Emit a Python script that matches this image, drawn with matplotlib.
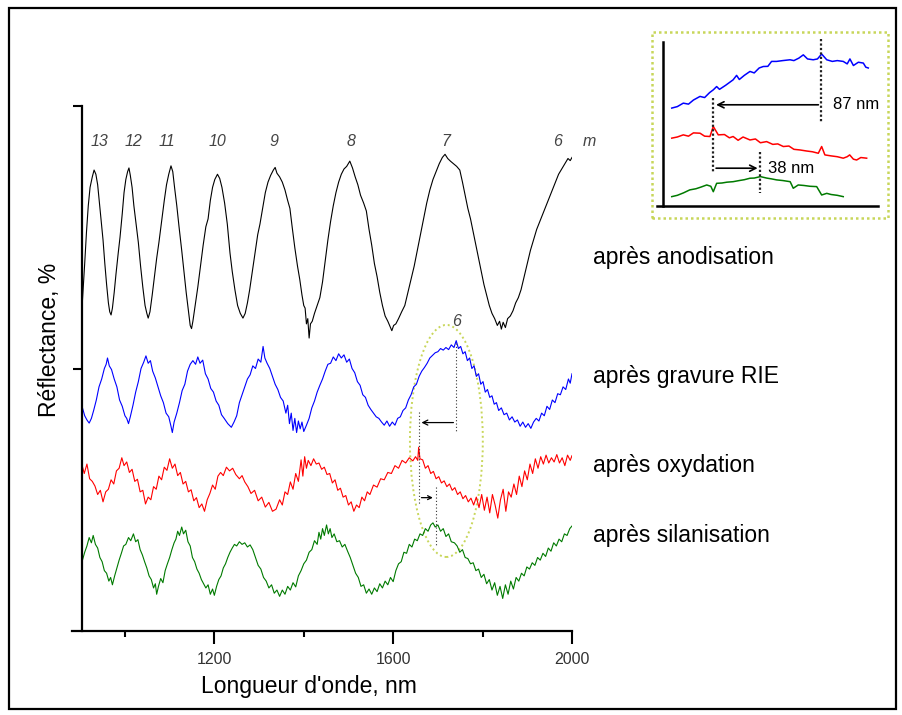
import matplotlib
matplotlib.use("Agg")
import matplotlib.pyplot as plt
from matplotlib.patches import Rectangle, Ellipse

plt.rcParams['font.family'] = ['Liberation Sans', 'DejaVu Sans']

# ---------------- data (wavelength nm, reflectance in arbitrary offset units) ----------------
black_pts = [(905, 63.0), (910, 70.0), (914, 76.0), (918, 81.0), (922, 84.5), (927, 86.5), (931, 87.8),
    (935, 87.0), (939, 85.0), (943, 81.5), (947, 78.0), (951, 74.5), (955, 70.0), (959, 66.0),
    (963, 62.5), (966, 60.8), (969, 60.2), (972, 61.5), (976, 64.5), (980, 68.0), (985, 72.0),
    (989, 75.0), (994, 79.5), (998, 83.5), (1002, 86.0), (1006, 87.5), (1009, 88.2), (1012, 86.8),
    (1016, 84.5), (1020, 81.0), (1025, 77.5), (1030, 74.0), (1035, 69.5), (1040, 65.5), (1045, 62.0),
    (1049, 60.5), (1052, 59.6), (1056, 60.8), (1061, 64.0), (1066, 67.5), (1071, 71.0), (1076, 74.0),
    (1082, 78.0), (1088, 82.0), (1093, 85.0), (1098, 87.0), (1103, 88.6), (1107, 87.5), (1111, 84.5),
    (1116, 81.0), (1121, 77.0), (1127, 72.5), (1132, 68.5), (1137, 64.5), (1142, 61.0), (1146, 58.2),
    (1149, 57.6), (1152, 59.0), (1157, 62.0), (1163, 65.5), (1169, 69.5), (1175, 73.5), (1181, 77.0),
    (1186, 78.5), (1191, 82.0), (1196, 84.5), (1201, 86.0), (1207, 87.0), (1212, 86.2), (1217, 84.5),
    (1223, 81.5), (1229, 77.5), (1235, 72.0), (1240, 68.5), (1246, 65.0), (1252, 62.0), (1258, 60.5),
    (1264, 59.6), (1269, 60.5), (1274, 62.5), (1279, 65.0), (1285, 68.5), (1291, 72.0), (1297, 75.5),
    (1302, 77.5), (1308, 80.5), (1314, 83.5), (1320, 85.5), (1326, 86.8), (1332, 87.8), (1336, 88.3),
    (1340, 87.2), (1346, 86.5), (1352, 85.5), (1358, 84.0), (1364, 82.0), (1369, 80.5), (1374, 77.0),
    (1380, 73.0), (1386, 69.5), (1391, 67.0), (1396, 64.0), (1400, 62.0), (1403, 61.5), (1406, 58.5),
    (1409, 59.5), (1412, 55.8), (1415, 58.5), (1419, 59.0), (1424, 60.5), (1430, 62.0), (1436, 63.5),
    (1442, 66.5), (1448, 70.5), (1454, 74.5), (1460, 78.0), (1466, 81.0), (1472, 83.5), (1478, 85.5),
    (1484, 87.0), (1490, 88.0), (1496, 88.5), (1503, 89.5), (1509, 88.2), (1515, 86.5), (1521, 85.0),
    (1527, 83.0), (1534, 81.5), (1540, 80.0), (1546, 76.5), (1552, 73.5), (1558, 70.0), (1564, 67.5),
    (1570, 64.5), (1576, 62.0), (1582, 60.0), (1588, 59.0), (1593, 58.0), (1597, 57.2), (1601, 58.2),
    (1606, 58.5), (1612, 59.5), (1619, 60.8), (1626, 62.0), (1633, 64.5), (1640, 67.0), (1647, 69.5),
    (1654, 72.5), (1661, 75.5), (1668, 78.5), (1675, 81.5), (1682, 84.0), (1689, 86.0), (1696, 87.5),
    (1703, 89.0), (1710, 90.2), (1716, 90.8), (1722, 90.0), (1728, 89.5), (1735, 89.0), (1742, 88.5),
    (1749, 87.8), (1755, 85.5), (1761, 83.0), (1767, 80.5), (1773, 78.5), (1779, 76.0), (1785, 73.5),
    (1791, 71.0), (1797, 68.5), (1803, 66.0), (1809, 64.0), (1815, 62.0), (1821, 60.5), (1827, 59.5),
    (1833, 58.2), (1838, 59.0), (1842, 57.5), (1846, 58.8), (1851, 57.8), (1856, 59.5), (1862, 60.0),
    (1868, 61.0), (1874, 62.5), (1880, 63.5), (1886, 65.0), (1893, 67.5), (1900, 70.0), (1907, 72.5),
    (1914, 74.5), (1921, 76.5), (1928, 78.0), (1935, 79.5), (1942, 81.0), (1949, 82.5), (1956, 84.0),
    (1963, 85.5), (1970, 87.0), (1977, 88.0), (1984, 89.0), (1991, 90.0), (1996, 89.6), (2000, 90.2)]

blue_pts = [(905, 42.5), (910, 41.0), (915, 40.2), (920, 39.6), (925, 40.5), (930, 42.0), (936, 44.0),
    (942, 46.5), (948, 48.0), (954, 50.0), (958, 50.8), (961, 52.0), (965, 50.5), (970, 49.8),
    (976, 48.0), (982, 46.5), (988, 44.0), (994, 42.8), (1000, 41.0), (1004, 40.5), (1008, 39.5),
    (1012, 40.8), (1018, 43.0), (1024, 45.5), (1030, 47.5), (1036, 50.0), (1042, 51.2), (1047, 52.4),
    (1052, 51.0), (1057, 51.5), (1062, 49.5), (1068, 48.2), (1074, 46.5), (1080, 44.8), (1086, 43.5),
    (1092, 41.5), (1098, 40.8), (1103, 39.0), (1106, 37.8), (1110, 39.8), (1116, 41.5), (1122, 43.5),
    (1128, 45.8), (1134, 47.0), (1140, 49.5), (1146, 50.8), (1152, 51.5), (1158, 50.8), (1163, 52.2),
    (1168, 51.0), (1174, 51.6), (1180, 49.0), (1186, 48.0), (1192, 46.2), (1198, 45.5), (1204, 43.8),
    (1210, 43.0), (1216, 41.2), (1222, 40.5), (1230, 39.5), (1238, 38.8), (1244, 39.8), (1250, 41.0),
    (1256, 43.5), (1262, 45.0), (1268, 46.5), (1274, 48.0), (1280, 48.8), (1286, 50.5), (1292, 50.0),
    (1298, 51.8), (1304, 51.2), (1309, 54.2), (1313, 52.0), (1318, 51.0), (1324, 50.0), (1330, 48.5),
    (1336, 47.0), (1342, 46.0), (1348, 44.5), (1354, 43.8), (1360, 41.5), (1364, 43.0), (1368, 39.5),
    (1372, 41.5), (1376, 38.2), (1380, 40.5), (1384, 37.8), (1388, 40.0), (1392, 38.5), (1396, 39.8),
    (1400, 38.0), (1406, 39.2), (1412, 40.5), (1418, 42.5), (1424, 43.8), (1430, 45.5), (1436, 46.8),
    (1442, 48.0), (1448, 49.5), (1454, 50.8), (1460, 51.0), (1466, 52.2), (1472, 51.5), (1478, 52.8),
    (1484, 52.0), (1490, 52.6), (1496, 51.2), (1502, 51.8), (1508, 50.0), (1514, 49.2), (1520, 47.5),
    (1526, 46.8), (1532, 45.0), (1538, 44.5), (1544, 43.0), (1550, 42.2), (1556, 41.5), (1562, 40.8),
    (1568, 40.5), (1574, 39.8), (1580, 39.2), (1586, 40.0), (1592, 39.0), (1598, 39.8), (1604, 39.2),
    (1610, 40.5), (1616, 40.8), (1622, 42.0), (1628, 42.5), (1634, 44.0), (1640, 45.0), (1646, 46.5),
    (1652, 47.0), (1658, 48.5), (1664, 49.5), (1670, 50.2), (1676, 51.0), (1682, 52.0), (1688, 52.5),
    (1694, 53.0), (1700, 53.2), (1706, 53.8), (1712, 53.5), (1718, 54.0), (1724, 53.6), (1730, 54.5),
    (1736, 54.0), (1741, 55.3), (1746, 53.8), (1751, 54.2), (1756, 52.8), (1761, 53.2), (1766, 51.5),
    (1771, 52.0), (1776, 50.0), (1781, 50.5), (1786, 48.5), (1791, 49.0), (1796, 47.0), (1801, 47.5),
    (1806, 45.5), (1811, 46.0), (1816, 44.5), (1821, 44.8), (1826, 43.2), (1831, 43.5), (1836, 42.0),
    (1842, 42.5), (1848, 41.2), (1854, 41.5), (1860, 40.2), (1866, 40.8), (1872, 39.8), (1878, 40.2),
    (1884, 39.0), (1890, 39.8), (1896, 38.8), (1902, 39.5), (1908, 38.6), (1914, 39.8), (1920, 40.5),
    (1926, 40.0), (1932, 41.5), (1938, 41.0), (1944, 42.8), (1950, 42.2), (1956, 44.0), (1962, 43.5),
    (1968, 45.2), (1974, 45.0), (1980, 46.5), (1986, 46.0), (1992, 48.0), (1996, 47.2), (2000, 49.0)]

red_pts = [(905, 31.3), (909, 30.0), (915, 31.8), (921, 29.0), (927, 28.5), (933, 27.6), (939, 26.0),
    (945, 26.8), (951, 24.6), (957, 26.5), (963, 27.0), (969, 28.8), (975, 28.0), (981, 30.5),
    (987, 31.0), (993, 33.0), (998, 31.5), (1004, 32.2), (1010, 30.2), (1016, 30.8), (1022, 28.5),
    (1028, 28.9), (1034, 26.5), (1040, 26.8), (1046, 24.2), (1052, 25.5), (1058, 25.0), (1064, 27.5),
    (1070, 27.0), (1076, 29.5), (1082, 28.8), (1088, 31.2), (1094, 30.6), (1100, 32.8), (1106, 31.0),
    (1112, 31.8), (1118, 29.6), (1124, 30.2), (1130, 28.0), (1136, 28.5), (1142, 26.5), (1148, 26.9),
    (1154, 24.8), (1160, 25.4), (1166, 23.5), (1172, 24.2), (1178, 22.8), (1184, 25.0), (1190, 26.2),
    (1196, 27.8), (1202, 27.0), (1208, 29.5), (1214, 30.2), (1220, 29.6), (1227, 31.2), (1234, 30.5),
    (1241, 31.0), (1248, 29.8), (1256, 29.0), (1262, 29.6), (1268, 28.4), (1275, 27.5), (1282, 26.2),
    (1290, 26.8), (1298, 24.8), (1306, 25.5), (1314, 23.6), (1322, 24.5), (1330, 22.8), (1338, 23.2),
    (1346, 25.0), (1352, 24.0), (1358, 26.5), (1364, 26.0), (1370, 28.4), (1376, 27.0), (1382, 30.0),
    (1388, 28.5), (1394, 32.6), (1398, 29.5), (1402, 33.2), (1406, 31.0), (1410, 32.5), (1416, 31.5),
    (1422, 32.8), (1428, 31.8), (1434, 32.0), (1440, 30.8), (1446, 31.2), (1452, 29.8), (1458, 30.0),
    (1464, 28.2), (1470, 28.8), (1476, 26.8), (1482, 27.2), (1488, 25.5), (1494, 25.8), (1500, 24.0),
    (1506, 24.6), (1512, 22.8), (1518, 24.0), (1524, 23.5), (1530, 25.5), (1536, 24.8), (1542, 26.5),
    (1548, 26.0), (1556, 27.8), (1564, 27.4), (1572, 29.0), (1580, 28.8), (1588, 30.2), (1596, 30.0),
    (1604, 31.5), (1612, 31.0), (1620, 32.5), (1628, 32.0), (1636, 33.0), (1644, 32.4), (1650, 33.2),
    (1655, 32.5), (1657, 35.0), (1660, 32.8), (1666, 32.6), (1672, 31.0), (1678, 31.5), (1684, 30.0),
    (1690, 30.4), (1696, 29.0), (1702, 29.4), (1708, 28.2), (1714, 28.6), (1720, 27.5), (1726, 28.0),
    (1732, 26.8), (1738, 27.3), (1744, 26.0), (1750, 26.5), (1756, 25.2), (1762, 25.8), (1768, 24.6),
    (1774, 25.3), (1780, 24.0), (1786, 25.5), (1792, 23.5), (1798, 26.0), (1804, 23.0), (1810, 25.5),
    (1816, 22.5), (1822, 26.0), (1828, 24.0), (1834, 21.5), (1840, 25.0), (1846, 27.0), (1852, 22.8),
    (1858, 26.5), (1864, 25.5), (1870, 28.0), (1876, 26.0), (1882, 29.5), (1888, 27.5), (1894, 30.5),
    (1900, 28.8), (1906, 31.8), (1912, 30.0), (1918, 32.8), (1924, 31.0), (1930, 33.2), (1936, 31.8),
    (1942, 33.5), (1948, 32.0), (1954, 33.0), (1960, 32.2), (1966, 33.6), (1972, 32.0), (1978, 33.0),
    (1984, 31.5), (1990, 33.5), (1996, 32.5), (2000, 33.4)]

green_pts = [(905, 13.5), (910, 15.0), (915, 16.2), (920, 17.8), (925, 16.8), (929, 18.2), (934, 16.5),
    (939, 15.8), (944, 14.0), (949, 13.2), (954, 11.5), (959, 11.0), (964, 9.5), (968, 10.2),
    (972, 8.8), (977, 10.5), (982, 12.0), (987, 13.5), (992, 14.8), (997, 16.2), (1002, 16.5),
    (1008, 17.8), (1013, 17.2), (1019, 18.5), (1024, 17.0), (1029, 17.4), (1034, 15.5), (1039, 14.5),
    (1044, 13.2), (1049, 12.0), (1054, 10.5), (1059, 9.8), (1064, 8.2), (1068, 9.0), (1071, 7.0),
    (1075, 8.5), (1080, 10.0), (1085, 9.2), (1090, 11.5), (1095, 12.8), (1100, 14.0), (1105, 15.5),
    (1110, 16.8), (1114, 17.5), (1118, 19.0), (1122, 18.2), (1127, 19.8), (1131, 18.5), (1136, 19.2),
    (1141, 17.0), (1146, 16.2), (1151, 14.0), (1156, 13.2), (1161, 11.8), (1166, 11.0), (1171, 9.8),
    (1176, 9.0), (1181, 8.2), (1186, 8.8), (1191, 7.0), (1196, 8.0), (1200, 6.8), (1205, 8.5),
    (1210, 9.8), (1215, 10.5), (1220, 12.0), (1225, 12.8), (1230, 14.0), (1235, 15.0), (1240, 15.8),
    (1245, 16.5), (1250, 16.2), (1256, 17.0), (1262, 16.5), (1268, 16.8), (1274, 16.0), (1280, 16.4),
    (1286, 15.5), (1292, 14.0), (1298, 12.5), (1304, 11.8), (1310, 10.2), (1316, 9.5), (1322, 8.2),
    (1328, 8.8), (1334, 7.2), (1340, 7.8), (1346, 6.6), (1352, 7.8), (1358, 7.0), (1364, 8.5),
    (1370, 7.8), (1376, 9.2), (1382, 8.4), (1388, 10.5), (1394, 11.5), (1400, 12.8), (1406, 13.5),
    (1412, 15.0), (1418, 15.5), (1424, 17.2), (1430, 16.5), (1434, 18.8), (1438, 17.5), (1442, 19.5),
    (1446, 18.2), (1451, 20.2), (1455, 18.5), (1459, 19.5), (1463, 17.8), (1468, 18.5), (1474, 17.0),
    (1480, 17.2), (1486, 16.0), (1492, 16.5), (1498, 15.2), (1504, 14.0), (1510, 12.5), (1516, 11.0),
    (1522, 10.2), (1528, 8.5), (1534, 8.8), (1540, 7.2), (1546, 8.0), (1552, 7.0), (1558, 8.2),
    (1564, 7.5), (1570, 9.0), (1576, 8.2), (1582, 9.5), (1588, 8.8), (1594, 10.2), (1600, 9.4),
    (1606, 11.5), (1612, 12.8), (1618, 13.2), (1624, 15.0), (1630, 14.8), (1636, 16.5), (1642, 16.0),
    (1648, 17.5), (1654, 17.2), (1660, 18.5), (1666, 18.2), (1672, 19.5), (1678, 19.0), (1684, 20.2),
    (1689, 20.6), (1694, 19.8), (1700, 20.2), (1706, 19.0), (1712, 19.5), (1718, 18.0), (1724, 18.5),
    (1730, 17.0), (1737, 16.8), (1743, 16.2), (1749, 15.0), (1755, 15.5), (1761, 14.0), (1767, 13.8),
    (1773, 12.8), (1779, 13.0), (1785, 11.5), (1791, 11.8), (1797, 10.2), (1803, 10.8), (1809, 9.0),
    (1815, 9.8), (1821, 7.8), (1827, 9.2), (1833, 6.8), (1839, 8.5), (1845, 6.2), (1851, 8.8),
    (1857, 7.0), (1863, 9.5), (1869, 8.0), (1875, 10.2), (1881, 9.5), (1887, 11.0), (1893, 10.5),
    (1899, 12.2), (1905, 11.8), (1911, 13.0), (1917, 12.5), (1923, 14.0), (1929, 13.5), (1935, 14.8),
    (1941, 14.2), (1947, 15.8), (1953, 15.2), (1959, 16.8), (1965, 16.2), (1971, 17.5), (1977, 17.0),
    (1983, 18.5), (1989, 18.2), (1995, 19.5), (2000, 20.0)]

series_labels = ["après anodisation", "après gravure RIE", "après oxydation", "après silanisation"]
series_colors = ["#000000", "#0000ff", "#ff0000", "#007a00"]

order_labels = ["13", "12", "11", "10", "9", "8", "7", "6", "m"]
order_x = [942, 1018, 1094, 1206, 1334, 1505, 1717, 1968, 2040]
order_y = 93.3

x_major = [1200, 1600, 2000]
x_minor = [1000, 1400, 1800]

# peak positions for the shift annotation (main plot)
peak_blue, peak_red, peak_green = 1741, 1657, 1695

# inset (zoom around order 6 peak)
inset_blue = [(1623.5, 59.6), (1628, 60.5), (1632.8, 62.6), (1637, 62.0), (1641, 64.5), (1646.3, 66.7),
    (1650, 66.0), (1654, 69.0), (1657, 70.7), (1659.7, 72.7), (1662, 71.0), (1667, 73.5), (1673, 76.8),
    (1675.8, 79.5), (1678, 77.0), (1682, 79.5), (1686.6, 81.9), (1690, 81.0), (1694, 84.0), (1697.3, 84.9),
    (1701, 85.0), (1704, 88.0), (1708, 88.0), (1713, 88.5), (1718.9, 89.0), (1722, 88.5), (1726, 90.0),
    (1729.6, 92.0), (1733, 89.5), (1737.6, 89.0), (1741, 89.5), (1744.4, 92.5), (1748.5, 89.0),
    (1753, 88.0), (1757, 88.5), (1761.8, 88.0), (1765, 86.5), (1767.2, 89.5), (1770, 85.5),
    (1774, 87.5), (1778, 87.0), (1780, 84.5), (1782, 84.0)]
inset_red = [(1623.5, 41.3), (1628, 42.0), (1632.8, 43.3), (1637, 42.5), (1641, 44.5), (1646.3, 44.3),
    (1650, 42.5), (1654.3, 42.3), (1657, 48.4), (1661, 43.3), (1666, 43.5), (1670, 41.5), (1673, 42.3),
    (1677, 40.0), (1681, 42.0), (1686.6, 40.2), (1691, 40.8), (1695, 38.5), (1700, 39.2), (1705, 37.5),
    (1709, 37.8), (1713.5, 36.2), (1718, 36.5), (1722, 34.5), (1727, 34.1), (1732, 33.5), (1737, 33.0),
    (1741.7, 32.1), (1744.4, 36.2), (1747, 31.1), (1752, 30.5), (1757, 30.0), (1761.8, 29.1),
    (1765, 30.0), (1767, 31.1), (1770, 28.5), (1772.6, 28.0), (1776, 29.5), (1780.7, 29.1)]
inset_green = [(1623.5, 5.7), (1628, 6.5), (1633, 8.0), (1638, 9.8), (1643, 10.5), (1647, 11.5),
    (1651.7, 12.8), (1655, 12.0), (1657, 8.7), (1659.7, 13.8), (1664, 14.0), (1668, 14.5), (1673, 14.8),
    (1678, 15.5), (1682, 16.0), (1686.6, 16.9), (1690, 17.0), (1695, 17.9), (1700, 17.0), (1704, 16.5),
    (1708, 15.9), (1713, 15.5), (1719, 14.8), (1721.5, 10.8), (1725.5, 12.8), (1730, 12.5),
    (1735, 12.0), (1740.4, 11.8), (1744.4, 6.7), (1748.5, 7.7), (1752, 7.0), (1757, 6.5), (1761.8, 5.7)]
inset_peaks = [1744, 1657, 1695]
inset_shifts = ["87 nm", "38 nm"]

# ---------------- figure ----------------
W, H = 903, 715
fig = plt.figure(figsize=(W / 100, H / 100), dpi=100)

def fx(px):
    return px / W

def fy(py):
    return 1 - py / H

ax = fig.add_axes([fx(72), fy(631), (572 - 72) / W, (631 - 106) / H])
ax.set_xlim(881.6, 2000)
ax.set_ylim(0, 100)
for s in ("top", "right"):
    ax.spines[s].set_visible(False)
ax.spines["left"].set_position(("data", 904))
for s in ("left", "bottom"):
    ax.spines[s].set_linewidth(1.6)
ax.patch.set_alpha(0)

ax.set_xticks(x_major)
ax.set_xticks(x_minor, minor=True)
ax.set_xticklabels([str(v) for v in x_major], fontsize=11.5, color="#333333")
ax.tick_params(axis="x", which="major", direction="out", length=9, width=1.5, pad=6)
ax.tick_params(axis="x", which="minor", direction="out", length=4.5, width=1.5)
ax.set_yticks([50, 100])
ax.set_yticklabels([])
ax.tick_params(axis="y", which="major", direction="out", length=6.5, width=1.5)

for pts, c in zip([black_pts, blue_pts, red_pts, green_pts], series_colors):
    xs = [p[0] for p in pts]
    ys = [p[1] for p in pts]
    ax.plot(xs, ys, color=c, lw=0.8)

for lab, xv in zip(order_labels, order_x):
    ax.text(xv, order_y, lab, fontsize=11.5, style="italic", color="#444444",
            ha="center", va="center", clip_on=False)
ax.text(peak_blue, 58.9, "6", fontsize=11.5, style="italic", color="#444444", ha="center", va="center")

# shift annotation in main plot
dot_kw = dict(color="#333333", lw=0.8, ls=(0, (1, 2)))
ax.plot([peak_blue, peak_blue], [54.9, 37.7], **dot_kw)
ax.plot([peak_red, peak_red], [41.8, 24.0], **dot_kw)
ax.plot([peak_green, peak_green], [27.4, 16.4], **dot_kw)
ax.annotate("", xy=(peak_red, 39.7), xytext=(peak_blue, 39.7),
            arrowprops=dict(arrowstyle="->", color="black", lw=0.9, mutation_scale=9))
ax.annotate("", xy=(peak_green, 25.4), xytext=(peak_red, 25.4),
            arrowprops=dict(arrowstyle="->", color="black", lw=0.9, mutation_scale=7))
ax.add_patch(Ellipse((1719, 36.2), 163, 44.2, fill=False, ec="#c8d65a", lw=1.4, ls=(0, (1, 1.5))))

# series labels
label_base = [264.3, 383.3, 471.7, 541.7]
for lab, py in zip(series_labels, label_base):
    fig.text(fx(593), fy(py), lab, fontsize=16.5, color="black", ha="left", va="baseline")

# axis labels
fig.text(fx(309), fy(686), "Longueur d'onde, nm", fontsize=16.5, ha="center", va="center")
fig.text(fx(50), fy(340), "Réflectance, %", fontsize=16.5, ha="center", va="center", rotation=90)

# ---------------- inset ----------------
fig.add_artist(Rectangle((fx(652), fy(218)), (888 - 652) / W, (218 - 32) / H, transform=fig.transFigure,
                         fill=False, ec="#c8d65a", lw=1.8, ls=(0, (1, 1.2))))
ia = fig.add_axes([fx(657), fy(206), (877.7 - 657) / W, (206 - 41.7) / H])
ia.set_xlim(1611.6, 1789.6)
ia.set_ylim(0, 100)
ia.patch.set_alpha(0)
for s in ("top", "right"):
    ia.spines[s].set_visible(False)
ia.spines["left"].set_position(("data", 1616.2))
for s in ("left", "bottom"):
    ia.spines[s].set_linewidth(1.8)
ia.set_xticks([])
ia.set_yticks([])
for pts, c in zip([inset_blue, inset_red, inset_green], series_colors[1:]):
    ia.plot([p[0] for p in pts], [p[1] for p in pts], color=c, lw=1.1)
idot = dict(color="#222222", lw=1.6, ls=(0, (1, 1)))
ia.plot([inset_peaks[0]] * 2, [101.7, 51.4], clip_on=False, **idot)
ia.plot([inset_peaks[1]] * 2, [65.7, 20.9], **idot)
ia.plot([inset_peaks[2]] * 2, [33.1, 7.7], **idot)
ia.annotate("", xy=(inset_peaks[1], 61.6), xytext=(inset_peaks[0], 61.6),
            arrowprops=dict(arrowstyle="->", color="black", lw=1.2, mutation_scale=11))
ia.annotate("", xy=(inset_peaks[2], 23.0), xytext=(inset_peaks[1], 23.0),
            arrowprops=dict(arrowstyle="->", color="black", lw=1.2, mutation_scale=11))
ia.text(1753.3, 61.6, inset_shifts[0], fontsize=12, ha="left", va="center", clip_on=False)
ia.text(1701.4, 23.0, inset_shifts[1], fontsize=12, ha="left", va="center")

# figure border
fig.add_artist(Rectangle((fx(9), fy(709)), (896 - 9) / W, (709 - 8) / H, transform=fig.transFigure,
                         fill=False, ec="black", lw=1.6))

fig.savefig("out.png", dpi=100)
